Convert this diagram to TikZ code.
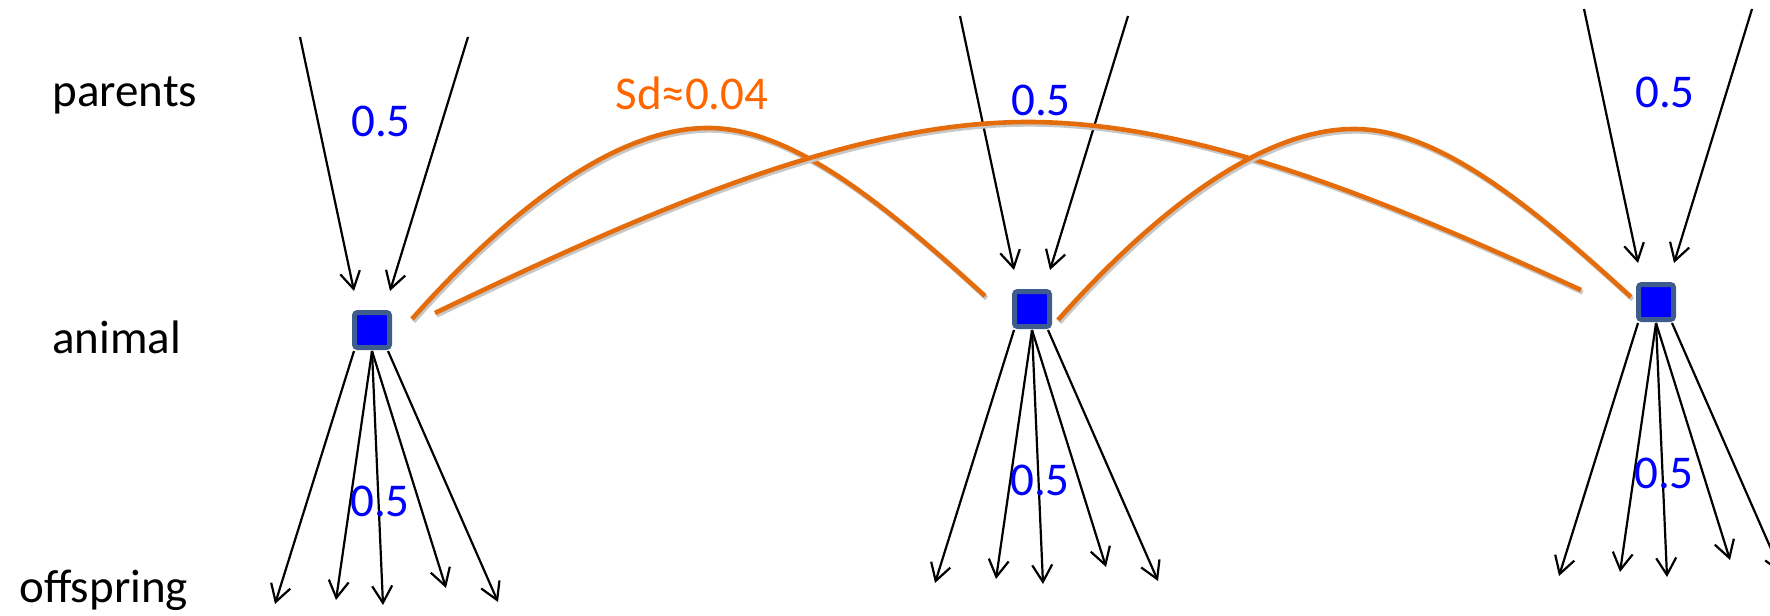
\documentclass[tikz,border=0pt]{standalone}
\usepackage{fontspec}
\setmainfont{Carlito}
\usetikzlibrary{arrows.meta,calc}
\definecolor{boxblue}{RGB}{0,0,255}
\definecolor{boxedge}{RGB}{62,92,140}
\definecolor{curveor}{RGB}{228,108,10}
\definecolor{textor}{RGB}{255,102,0}
\begin{document}
\begin{tikzpicture}[x=0.5pt,y=-0.5pt,
  animalbox/.style={draw=boxedge,fill=boxblue,line width=2.5pt,minimum size=17.5pt,inner sep=0pt,rounded corners=1.5pt},
  link/.style={draw=black,line width=1.1pt,-{Straight Barb[length=8.5pt,width=10pt]}},
  tie/.style={draw=curveor,line width=2.3pt,
    preaction={draw=black!22,line width=2.3pt,transform canvas={xshift=0.8pt,yshift=-1.2pt}}},
  rowlabel/.style={font=\fontsize{23.5}{28}\selectfont,anchor=base west,inner sep=0pt},
  coef/.style={font=\fontsize{23.5}{28}\selectfont,text=boxblue,anchor=base,inner sep=0pt},
  sdlabel/.style={font=\fontsize{23.5}{28}\selectfont,text=textor,anchor=base,inner sep=0pt}]
\useasboundingbox (0,0) rectangle (1770,615);
\clip (0,0) rectangle (1770,615);

% row labels
\node[rowlabel] (lp) at (52,106) {parents};
\node[rowlabel] (la) at (52,353) {animal};
\node[rowlabel] (lo) at (19,602) {offspring};

% animals
\node[animalbox] (n1) at (372,330) {};
\node[animalbox] (n2) at (1032,309) {};
\node[animalbox] (n3) at (1656,302) {};

\foreach \i in {1,2,3} {
  % parents -> animal
  \coordinate (pa\i) at ($(n\i)+(-72,-293)$);
  \coordinate (pb\i) at ($(n\i)+(96,-293)$);
  \coordinate (ia\i) at ($(n\i)+(-18,-39)$);
  \coordinate (ib\i) at ($(n\i)+(18,-39)$);
  \draw[link] (pa\i) -- (ia\i);
  \draw[link] (pb\i) -- (ib\i);
  % animal -> offspring
  \coordinate (sl\i) at ($(n\i)+(-18,21)$);
  \coordinate (sm\i) at ($(n\i)+(0,21)$);
  \coordinate (sr\i) at ($(n\i)+(16,21)$);
  \coordinate (oa\i) at ($(n\i)+(-97,274)$);
  \coordinate (ob\i) at ($(n\i)+(-36,270)$);
  \coordinate (oc\i) at ($(n\i)+(11,275)$);
  \coordinate (od\i) at ($(n\i)+(74,258)$);
  \coordinate (oe\i) at ($(n\i)+(126,272)$);
  \draw[link] (sl\i) -- (oa\i);
  \draw[link] (sm\i) -- (ob\i);
  \draw[link] (sm\i) -- (oc\i);
  \draw[link] (sm\i) -- (od\i);
  \draw[link] (sr\i) -- (oe\i);
  % coefficients
  \node[coef] (cu\i) at ($(n\i)+(9,-194)$) {0.5};
  \node[coef] (cl\i) at ($(n\i)+(8,186)$) {0.5};
}

% genetic relationship curves
\coordinate (t1s) at (412,319);
\coordinate (t1e) at (985,296);
\coordinate (t2s) at (435,313);
\coordinate (t2e) at (1581,290);
\coordinate (t3s) at (1058,320);
\coordinate (t3e) at (1631,297);
\draw[tie] (t1s) .. controls (500,220) and (610,128) .. (708,128)
                 .. controls (790,128) and (880,200) .. (t1e);
\draw[tie] (t2s) .. controls (650,210) and (850,122) .. (1028,122)
                 .. controls (1206,122) and (1406,210) .. (t2e);
\draw[tie] (t3s) .. controls (1146,221) and (1256,129) .. (1354,129)
                 .. controls (1436,129) and (1526,201) .. (t3e);
\node[sdlabel] (sd) at (692,110) {Sd≈0.04};
\end{tikzpicture}
\end{document}
